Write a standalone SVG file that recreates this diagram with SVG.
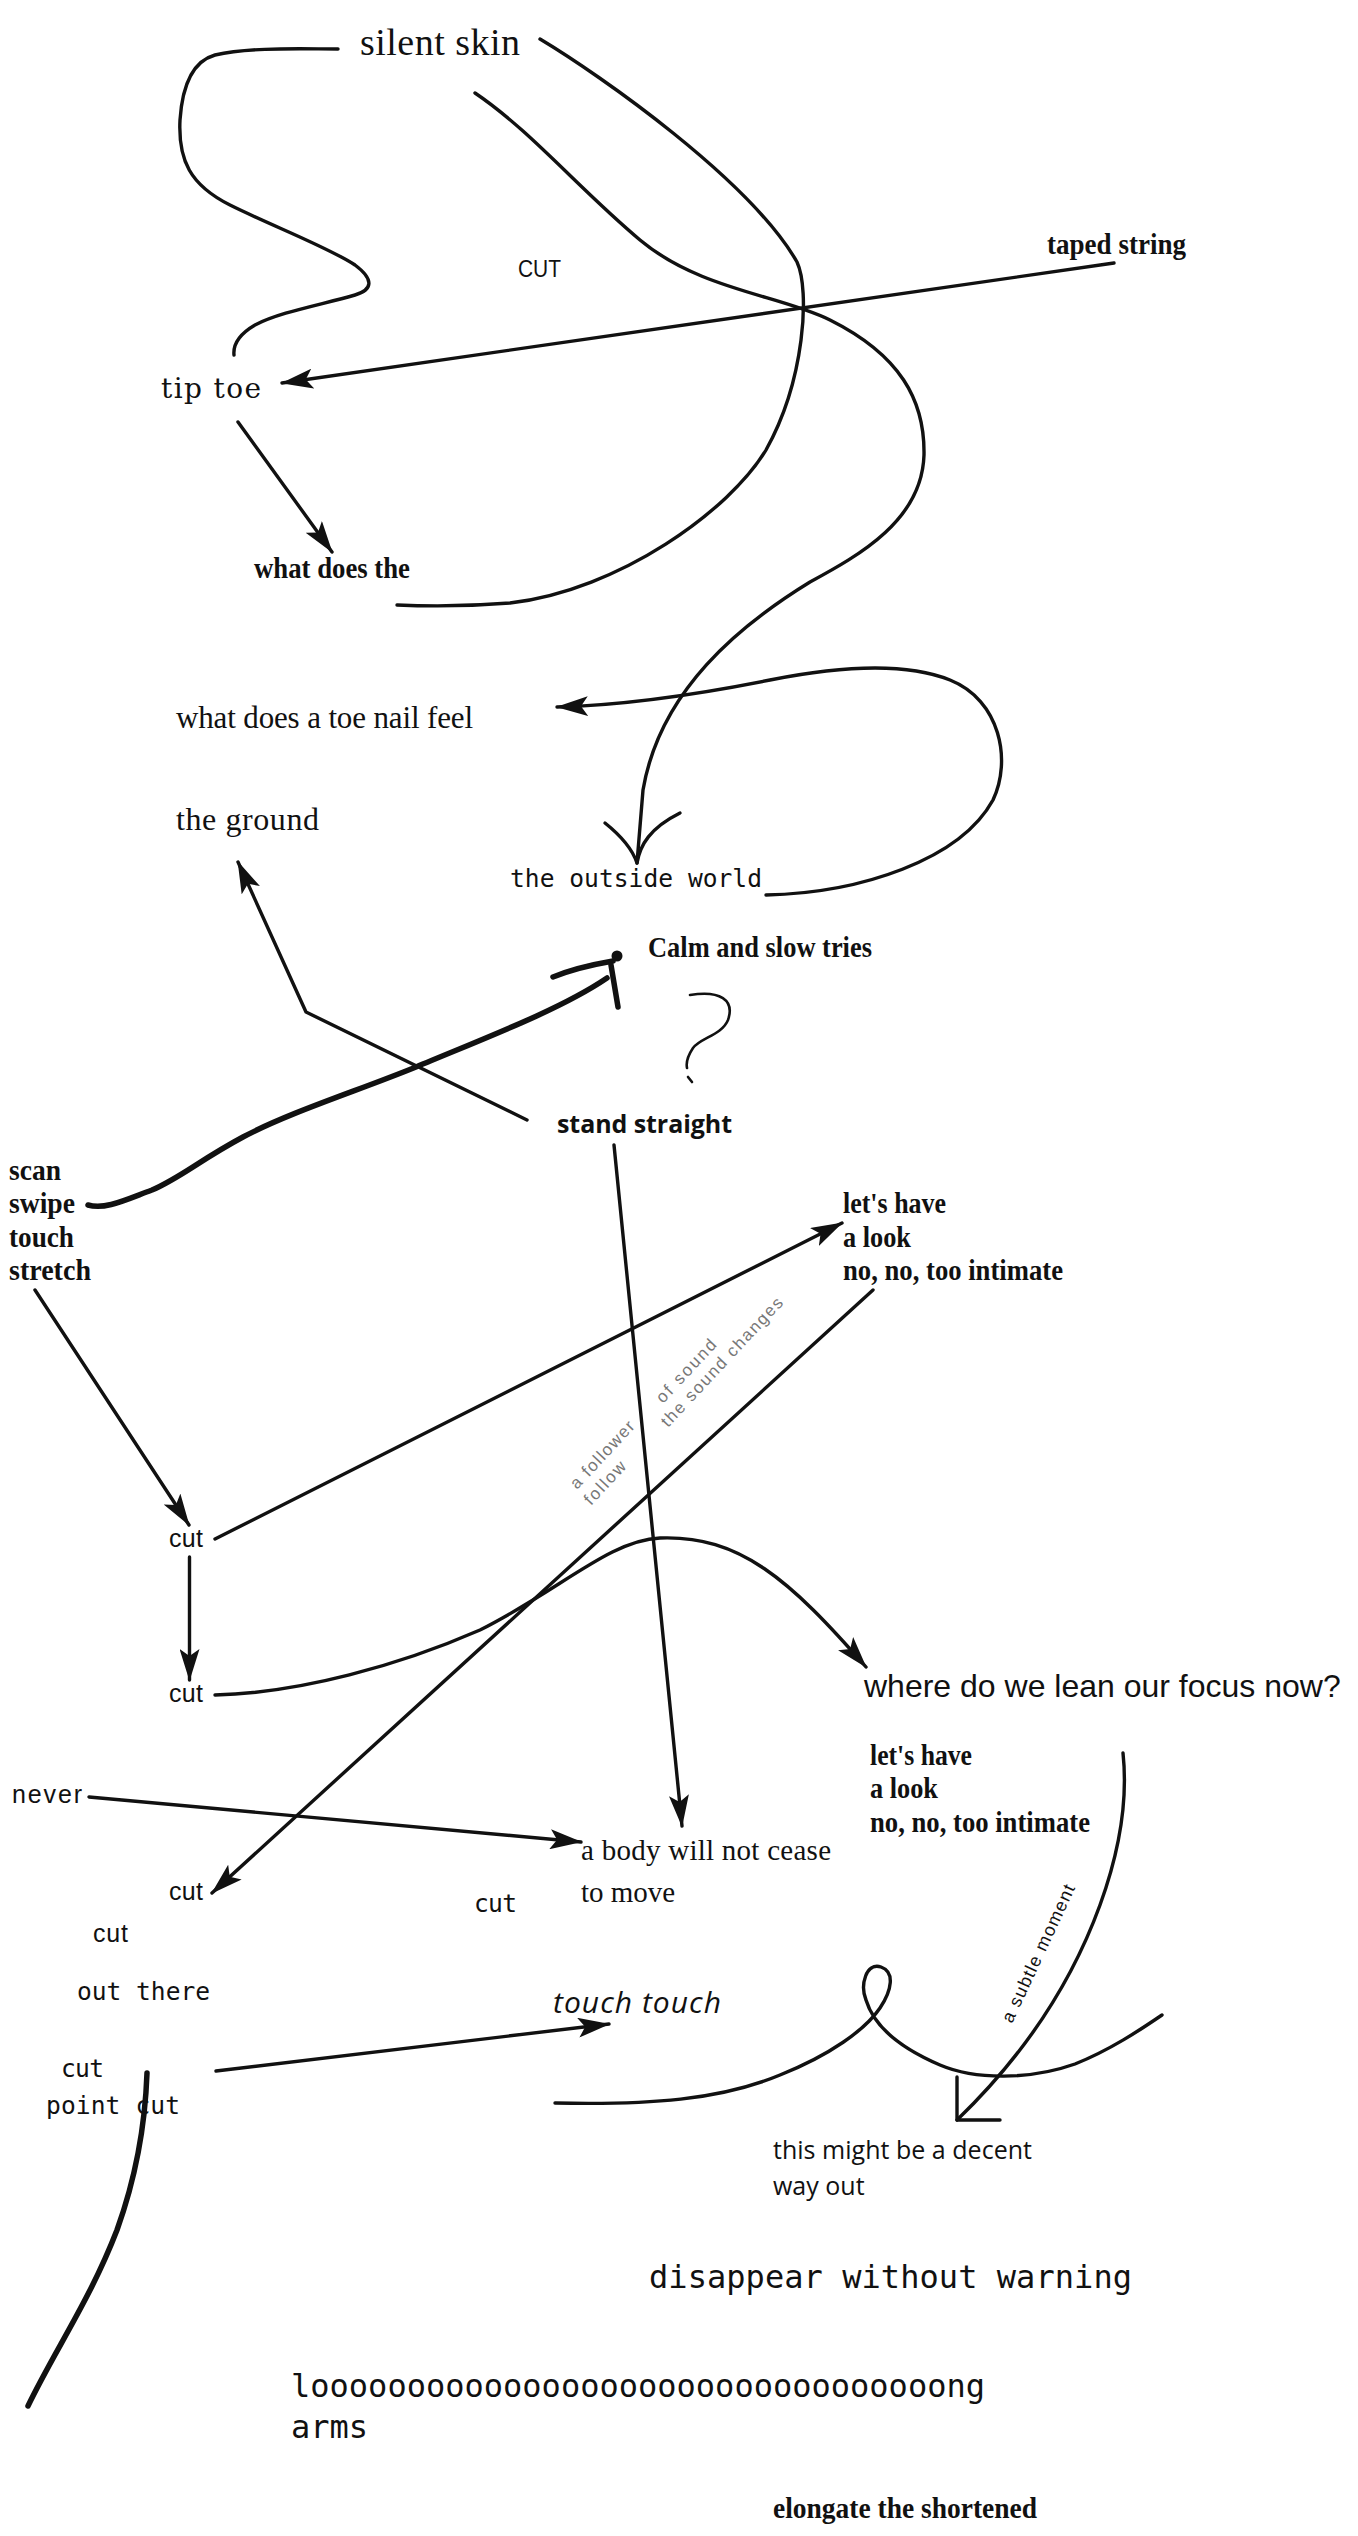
<svg xmlns="http://www.w3.org/2000/svg" width="1358" height="2536" viewBox="0 0 1358 2536">
<style>
.ln{fill:none;stroke:#111;stroke-width:3.4;stroke-linecap:round;stroke-linejoin:round}
.thick{stroke-width:5.5}
.arr{marker-end:url(#ah)}
text{fill:#111}
.garamond{font-family:"Liberation Serif",serif}
.bold{font-family:"Liberation Serif",serif;font-weight:bold;font-size:30px}
.sans{font-family:"Liberation Sans",sans-serif}
.mono{font-family:"DejaVu Sans Mono","Liberation Mono",monospace}
.open{font-family:"Open Sans","Liberation Sans",sans-serif}
.gray{font-family:"Liberation Sans",sans-serif;fill:#777;font-size:17px}
</style>
<defs>
<marker id="ah" viewBox="0 0 32 20" refX="31" refY="10" markerWidth="32" markerHeight="20" markerUnits="userSpaceOnUse" orient="auto">
<path d="M0,0 L32,10 L0,20 L7,10 Z" fill="#111"/>
</marker>
</defs>
<rect width="1358" height="2536" fill="#fff"/>

<g id="connectors">
<!-- silent skin left loop -->
<path class="ln" d="M338,49 C300,49 250,47 215,55 C190,62 182,90 180,120 C178,160 190,185 230,205 C270,225 330,248 355,265 C375,280 372,290 355,295 C320,305 280,312 255,325 C238,335 233,345 234,355"/>
<!-- silent skin right line to under "what does the" -->
<path class="ln" d="M540,39 C600,75 750,180 797,262 C810,290 805,380 766,450 C730,510 620,590 510,603 C460,607 420,606 397,605"/>
<!-- curve from near CUT to the outside world -->
<path class="ln" d="M475,93 C530,130 580,190 640,240 C700,290 780,295 830,320 C900,355 925,400 924,455 C922,520 860,555 810,582 C740,625 660,690 643,790 L637,863"/>
<path class="ln" d="M605,823 C620,835 632,848 637,863 C640,845 650,828 680,813"/>
<!-- loop from the outside world to what does a toe nail feel -->
<path class="ln arr" d="M766,895 C860,893 960,860 993,800 C1012,760 1000,700 950,680 C900,660 830,668 770,680 C700,694 630,705 557,707"/>
<!-- taped string to tip toe -->
<path class="ln arr" d="M1114,263 L282,383"/>
<!-- tip toe to what does the -->
<path class="ln arr" d="M238,422 L332,552"/>
<!-- stand straight to the ground -->
<path class="ln arr" d="M527,1120 L306,1012 L238,862"/>
<!-- swipe to Calm and slow tries -->
<path class="ln thick" d="M88,1205 C105,1210 125,1200 152,1190 C180,1178 200,1160 243,1137 C290,1112 360,1090 416,1067 C480,1040 560,1010 607,978"/>
<path class="ln thick" d="M553,977 C570,970 590,965 613,961"/>
<path class="ln thick" d="M611,965 L618,1007"/>
<circle cx="617" cy="956" r="5.5" fill="#111"/>
<!-- question mark -->
<path class="ln" style="stroke-width:2.6" d="M690,995 C720,990 735,1000 728,1020 C722,1035 700,1038 693,1048 C687,1057 686,1063 687,1068"/>
<path class="ln" style="stroke-width:2.6" d="M688,1077 L692,1082"/>
<!-- stand straight down to a body -->
<path class="ln arr" d="M614,1145 L682,1826"/>
<!-- stretch to cut -->
<path class="ln arr" d="M35,1290 L189,1525"/>
<!-- cut to let's have -->
<path class="ln arr" d="M215,1539 L842,1223"/>
<!-- no no too intimate to cut -->
<path class="ln arr" d="M873,1290 L212,1893"/>
<!-- cut to cut -->
<path class="ln arr" d="M189.5,1557 L189.5,1680"/>
<!-- cut to where do we lean -->
<path class="ln arr" d="M215,1695 C300,1693 400,1665 480,1630 C560,1590 610,1540 660,1538 C740,1535 790,1580 866,1667"/>
<!-- never to a body -->
<path class="ln arr" d="M89,1797 L581,1842"/>
<!-- left bottom thick curve -->
<path class="ln thick" d="M147,2073 C145,2130 135,2180 117,2230 C90,2300 55,2350 28,2406"/>
<!-- point cut to touch touch -->
<path class="ln arr" d="M216,2071 L609,2024"/>
<!-- looped curve -->
<path class="ln" d="M555,2103 C650,2105 720,2100 780,2075 C830,2055 865,2030 880,2008 C892,1990 895,1972 881,1967 C866,1962 860,1985 866,2000 C875,2030 905,2050 940,2065 C975,2080 1030,2080 1075,2064 C1110,2050 1140,2030 1162,2015"/>
<!-- a subtle moment line -->
<path class="ln" d="M1123,1753 C1128,1800 1120,1850 1100,1905 C1080,1960 1040,2040 957,2120"/>
<path class="ln" d="M957,2077 L957,2120 L1000,2120"/>
</g>

<g id="n-silent-skin"><text class="garamond" x="360" y="55" font-size="38" textLength="160">silent skin</text></g>
<g id="n-cut-top"><text class="sans" x="518" y="277" font-size="24" textLength="43" lengthAdjust="spacingAndGlyphs">CUT</text></g>
<g id="n-taped-string"><text class="bold" x="1047" y="254" textLength="139" lengthAdjust="spacingAndGlyphs">taped string</text></g>
<g id="n-tip-toe"><text x="161" y="398" font-family="DejaVu Serif, serif" font-size="28" textLength="100">tip toe</text></g>
<g id="n-what-does-the"><text class="bold" x="254" y="578" textLength="156" lengthAdjust="spacingAndGlyphs">what does the</text></g>
<g id="n-toe-nail"><text class="garamond" x="176" y="728" font-size="31" textLength="297">what does a toe nail feel</text></g>
<g id="n-the-ground"><text class="garamond" x="176" y="830" font-size="32" textLength="143">the ground</text></g>
<g id="n-outside-world"><text class="mono" x="510" y="887" font-size="24.6" textLength="252">the outside world</text></g>
<g id="n-calm"><text class="bold" x="648" y="957" textLength="224" lengthAdjust="spacingAndGlyphs">Calm and slow tries</text></g>
<g id="n-stand-straight"><text class="open" x="557" y="1133" font-size="25" font-weight="bold" textLength="175">stand straight</text></g>
<g id="n-scan">
<text class="bold" x="9" y="1180" textLength="52" lengthAdjust="spacingAndGlyphs">scan</text>
<text class="bold" x="9" y="1213" textLength="66" lengthAdjust="spacingAndGlyphs">swipe</text>
<text class="bold" x="9" y="1247" textLength="65" lengthAdjust="spacingAndGlyphs">touch</text>
<text class="bold" x="9" y="1280" textLength="82" lengthAdjust="spacingAndGlyphs">stretch</text>
</g>
<g id="n-lets-have-1">
<text class="bold" x="843" y="1213" textLength="103" lengthAdjust="spacingAndGlyphs">let's have</text>
<text class="bold" x="843" y="1247" textLength="68" lengthAdjust="spacingAndGlyphs">a look</text>
<text class="bold" x="843" y="1280" textLength="220" lengthAdjust="spacingAndGlyphs">no, no, too intimate</text>
</g>
<g id="n-follower">
<text class="gray" transform="translate(577,1490) rotate(-47)" textLength="86">a follower</text>
<text class="gray" transform="translate(591,1506) rotate(-47)" textLength="53">follow</text>
<text class="gray" transform="translate(663,1404) rotate(-47)" textLength="80">of sound</text>
<text class="gray" transform="translate(668,1428) rotate(-47)" textLength="170">the sound changes</text>
</g>
<g id="n-cut-1"><text class="sans" x="169" y="1547" font-size="25" textLength="34">cut</text></g>
<g id="n-cut-2"><text class="sans" x="169" y="1702" font-size="25" textLength="34">cut</text></g>
<g id="n-where"><text class="sans" x="864" y="1697" font-size="32">where do we lean our focus now?</text></g>
<g id="n-lets-have-2">
<text class="bold" x="870" y="1765" textLength="102" lengthAdjust="spacingAndGlyphs">let's have</text>
<text class="bold" x="870" y="1798" textLength="68" lengthAdjust="spacingAndGlyphs">a look</text>
<text class="bold" x="870" y="1832" textLength="220" lengthAdjust="spacingAndGlyphs">no, no, too intimate</text>
</g>
<g id="n-never"><text class="sans" x="12" y="1803" font-size="25" textLength="70">never</text></g>
<g id="n-a-body">
<text class="garamond" x="581" y="1860" font-size="29" textLength="250">a body will not cease</text>
<text class="garamond" x="581" y="1902" font-size="29">to move</text>
</g>
<g id="n-cut-3"><text class="sans" x="169" y="1900" font-size="25" textLength="34">cut</text></g>
<g id="n-cut-4"><text class="mono" x="474" y="1912" font-size="24.6" textLength="43">cut</text></g>
<g id="n-cut-5"><text class="sans" x="93" y="1942" font-size="25" textLength="35">cut</text></g>
<g id="n-out-there"><text class="mono" x="77" y="2000" font-size="24.6" textLength="133">out there</text></g>
<g id="n-cut-6"><text class="mono" x="61" y="2077" font-size="24.6" textLength="43">cut</text></g>
<g id="n-point-cut"><text class="mono" x="46" y="2114" font-size="24.6" textLength="134">point cut</text></g>
<g id="n-touch-touch"><text class="open" x="553" y="2013" font-size="30" font-style="italic" textLength="168">touch touch</text></g>
<g id="n-subtle"><text x="0" y="0" transform="translate(1012,2024) rotate(-65)" font-family="Liberation Sans, sans-serif" font-size="18" fill="#555" textLength="150">a subtle moment</text></g>
<g id="n-decent">
<text class="open" x="773" y="2159" font-size="25" textLength="259">this might be a decent</text>
<text class="open" x="773" y="2195" font-size="25">way out</text>
</g>
<g id="n-disappear"><text class="mono" x="649" y="2288" font-size="32" textLength="483">disappear without warning</text></g>
<g id="n-long">
<text class="mono" x="291" y="2397" font-size="32" textLength="694">looooooooooooooooooooooooooooooooong</text>
<text class="mono" x="291" y="2438" font-size="32">arms</text>
</g>
<g id="n-elongate"><text class="bold" x="773" y="2518" textLength="264" lengthAdjust="spacingAndGlyphs">elongate the shortened</text></g>
</svg>
